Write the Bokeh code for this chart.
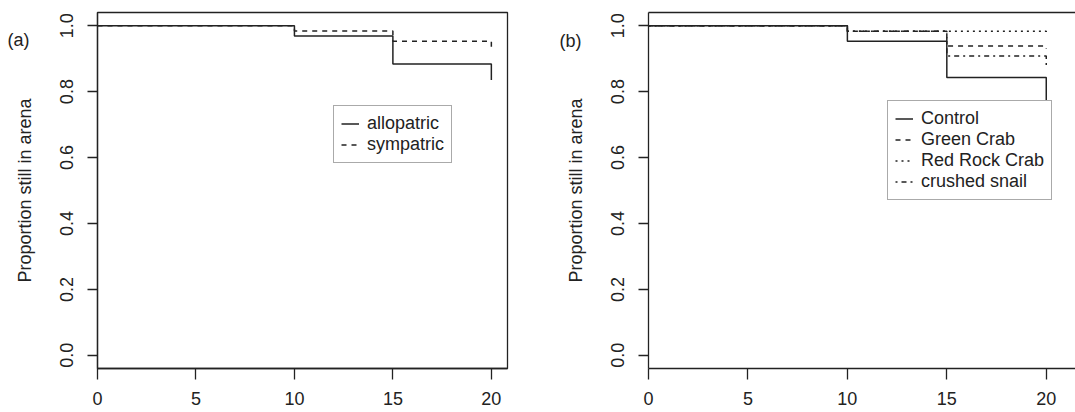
from bokeh.plotting import figure
from bokeh.layouts import row
from bokeh.models import (Range1d, FixedTicker, PrintfTickFormatter, Legend,
                          LegendItem, Label, LinearAxis)
from bokeh.embed import file_html
from bokeh.resources import INLINE

# ---- data ----
times = [0, 10, 15, 20]
allopatric = [1.0, 0.969, 0.884, 0.835]
sympatric = [1.0, 0.984, 0.953, 0.931]
control = [1.0, 0.953, 0.843, 0.762]
green_crab = [1.0, 0.983, 0.938, 0.931]
red_rock_crab = [1.0, 0.983, 0.983, 0.979]
crushed_snail = [1.0, 0.983, 0.908, 0.873]
x_ticks = [0, 5, 10, 15, 20]
y_ticks = [0.0, 0.2, 0.4, 0.6, 0.8, 1.0]
y_label = "Proportion still in arena"
series_a = [("allopatric", allopatric, "solid"), ("sympatric", sympatric, "5 5")]
series_b = [("Control", control, "solid"), ("Green Crab", green_crab, "5 5"),
            ("Red Rock Crab", red_rock_crab, "2 4"), ("crushed snail", crushed_snail, "2 4 5 4")]

FONT = "Liberation Sans"
INK = "#222222"
H = 412


def make_fig(width, x_end, left, right, top, bottom, outline):
    p = figure(width=width, height=H, x_range=Range1d(0, x_end), y_range=Range1d(-0.04, 1.04),
               output_backend="svg", toolbar_location=None, tools="",
               min_border_left=left, min_border_right=right,
               min_border_top=top, min_border_bottom=bottom)
    p.grid.visible = False
    p.background_fill_color = "white"
    p.border_fill_color = "white"
    if outline:
        p.outline_line_color = INK
        p.outline_line_width = 1.3
        p.outline_line_alpha = 1.0
    else:
        p.outline_line_color = None
    xa = p.xaxis[0]
    ya = p.yaxis[0]
    xa.ticker = FixedTicker(ticks=x_ticks)
    ya.ticker = FixedTicker(ticks=y_ticks)
    ya.formatter = PrintfTickFormatter(format="%.1f")
    for ax in (xa, ya):
        ax.major_tick_in = 0
        ax.minor_tick_line_color = None
        ax.axis_line_color = INK
        ax.axis_line_width = 1.3
        ax.major_tick_line_color = INK
        ax.major_tick_line_width = 1.3
        ax.major_label_text_font = FONT
        ax.major_label_text_font_size = "18px"
        ax.major_label_text_color = INK
    xa.major_tick_out = 11
    ya.major_tick_out = 10
    ya.major_label_orientation = "vertical"
    ya.major_label_standoff = 14
    xa.major_label_standoff = 12
    ya.axis_label = y_label
    ya.axis_label_text_font = FONT
    ya.axis_label_text_font_size = "18px"
    ya.axis_label_text_font_style = "normal"
    ya.axis_label_text_color = INK
    ya.axis_label_standoff = 23
    return p


def add_series(p, series, loc):
    items = []
    for name, vals, dash in series:
        r = p.step(x=times, y=vals, mode="after", line_color=INK, line_width=1.5, line_dash=dash)
        items.append(LegendItem(label=name, renderers=[r]))
    lg = Legend(items=items, location=loc, orientation="vertical",
                label_text_font=FONT, label_text_font_size="18px", label_text_color=INK,
                label_height=17, glyph_height=17, glyph_width=18, label_standoff=8,
                spacing=0, padding=7, margin=0,
                border_line_color="#555555", border_line_width=1,
                background_fill_color="white", background_fill_alpha=1.0)
    p.add_layout(lg, "center")


# ---- panel (a) ----
pa = make_fig(540, 20.82, 97, 33, 12, 44, True)
add_series(pa, series_a, (236, 205))
pa.add_layout(Label(x=18, y=39, x_units="canvas", y_units="canvas", text="(a)",
                    text_font=FONT, text_font_size="18px",
                    text_align="center", text_baseline="middle", text_color=INK), "right")

# ---- panel (b) ----
pb = make_fig(535, 21.47, 108, 0, 9, 44, False)
top_ax = LinearAxis(ticker=FixedTicker(ticks=[]), major_label_text_font_size="0px",
                    major_tick_out=0, major_tick_in=0, minor_tick_out=0, minor_tick_in=0,
                    axis_line_color=INK, axis_line_width=1.3)
pb.add_layout(top_ax, "above")
add_series(pb, series_b, (239, 168))
pb.add_layout(Label(x=30, y=40, x_units="canvas", y_units="canvas", text="(b)",
                    text_font=FONT, text_font_size="18px",
                    text_align="center", text_baseline="middle", text_color=INK), "left")

layout = row(pa, pb)
open("out.html", "w").write(file_html(layout, INLINE))
